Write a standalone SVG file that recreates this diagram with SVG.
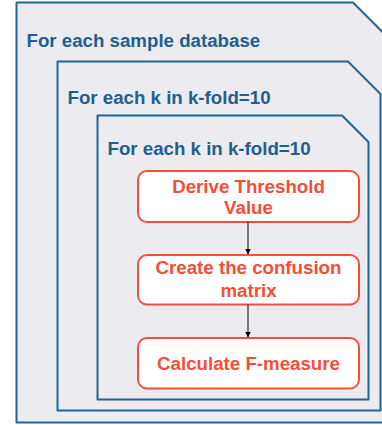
<svg xmlns="http://www.w3.org/2000/svg" width="382" height="425" viewBox="0 0 382 425">
<defs>
<style>
.frame{fill:#ebebf0;stroke:#1f6595;stroke-width:2;stroke-linejoin:round}
.lbl{font-family:"Liberation Sans",Arial,sans-serif;font-weight:bold;font-size:18.7px;fill:#1f5f8e}
.box{fill:#ffffff;stroke:#f44e3a;stroke-width:2}
.btxt{font-family:"Liberation Sans",Arial,sans-serif;font-weight:bold;font-size:18.7px;fill:#f44e3a;text-anchor:middle}
.conn{stroke:#000;stroke-width:1;fill:none}
</style>
<marker id="arr" markerWidth="6" markerHeight="6" refX="5.5" refY="3" orient="auto" markerUnits="userSpaceOnUse">
<path d="M0,0 L6,3 L0,6 Z" fill="#000"/>
</marker>
</defs>
<g id="outer">
<path class="frame" d="M16.5,2.5 H353 L392,41.5 V422.5 H16.5 Z"/>
<text class="lbl" x="26.5" y="46.5">For each sample database</text>
</g>
<g id="middle">
<path class="frame" d="M57.5,61.5 H348 L380.5,94 V410.5 H57.5 Z"/>
<text class="lbl" x="67.5" y="103.5">For each k in k-fold=10</text>
</g>
<g id="inner">
<path class="frame" d="M97.5,115.5 H342 L368.5,142 V399.5 H97.5 Z"/>
<text class="lbl" x="107.5" y="155">For each k in k-fold=10</text>
</g>
<g id="n1">
<rect class="box" x="138" y="171" width="221" height="51" rx="9"/>
<text class="btxt" x="248.5" y="192.5">Derive Threshold</text>
<text class="btxt" x="248.5" y="214">Value</text>
</g>
<g id="n2">
<rect class="box" x="138" y="255" width="221" height="49.5" rx="9"/>
<text class="btxt" x="248.5" y="273.5">Create the confusion</text>
<text class="btxt" x="248.5" y="296.5">matrix</text>
</g>
<g id="n3">
<rect class="box" x="138" y="338" width="221" height="50.5" rx="9"/>
<text class="btxt" x="248.5" y="370">Calculate F-measure</text>
</g>
<g id="connectors">
<line class="conn" x1="248" y1="222" x2="248" y2="254" marker-end="url(#arr)"/>
<line class="conn" x1="248" y1="304.5" x2="248" y2="337" marker-end="url(#arr)"/>
</g>
</svg>
